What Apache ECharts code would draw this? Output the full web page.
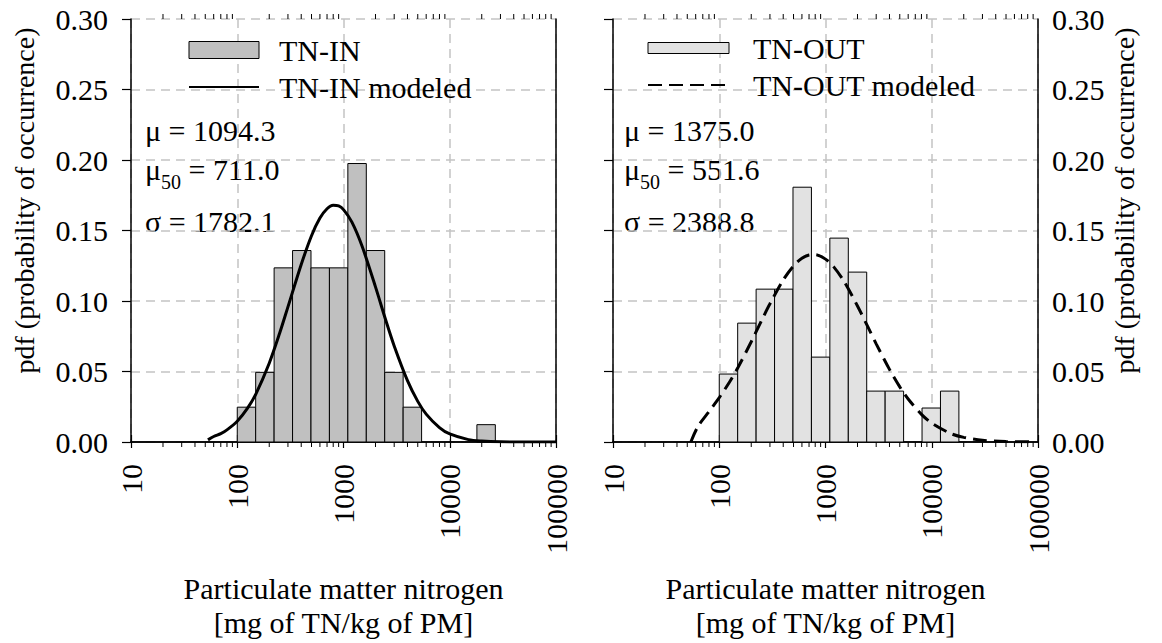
<!DOCTYPE html>
<html>
<head>
<meta charset="utf-8">
<script src="https://cdn.jsdelivr.net/npm/echarts@6/dist/echarts.min.js"></script>
<style>
html,body{margin:0;padding:0;background:#fff;}
#chart{width:1162px;height:643px;}
</style>
</head>
<body>
<div id="chart"></div>
<script>
// ---------------- data ----------------
const binEdges = [100, 149.1, 222.3, 331.5, 494.3, 737.1, 1099, 1639, 2443, 3643, 5433, 8101, 12078, 18009, 26853];
const tnInPdf  = [0.0247, 0.0494, 0.1235, 0.1358, 0.1235, 0.1235, 0.1975, 0.1358, 0.0494, 0.0247, 0, 0, 0, 0.0123];
const tnOutPdf = [0.0482, 0.0843, 0.1084, 0.1084, 0.1807, 0.0602, 0.1446, 0.1205, 0.0361, 0.0361, 0, 0.0241, 0.0361];

const tnInModelX = [53, 60, 70, 80, 100, 125, 150, 200, 250, 300, 400, 500, 600, 700, 800, 900, 1000, 1200, 1500, 2000, 2500, 3000, 4000, 5000, 6000, 8000, 10000, 15000, 20000, 30000, 50000, 100000];
const tnInModelY = [0.0015, 0.0039, 0.0060, 0.0086, 0.0147, 0.0240, 0.0342, 0.0559, 0.0769, 0.0958, 0.1259, 0.1463, 0.1588, 0.1654, 0.1679, 0.1674, 0.1648, 0.1559, 0.1386, 0.1100, 0.0863, 0.0681, 0.0435, 0.0288, 0.0198, 0.0102, 0.0057, 0.0017, 0.0007, 0.00015, 0.00002, 0];

const tnOutModelX = [54, 63, 79, 100, 125, 150, 200, 250, 300, 400, 500, 600, 700, 800, 1000, 1200, 1500, 2000, 2500, 3000, 4000, 5000, 6000, 8000, 10000, 15000, 20000, 30000, 50000, 90000];
const tnOutModelY = [0, 0.011, 0.021, 0.0315, 0.0425, 0.0528, 0.0711, 0.0861, 0.0980, 0.1149, 0.1249, 0.1303, 0.1326, 0.1329, 0.1297, 0.1240, 0.1137, 0.0965, 0.0818, 0.0696, 0.0515, 0.0391, 0.0305, 0.0196, 0.0134, 0.0061, 0.0033, 0.0012, 0.0003, 0.0001];

const minorTickValues = [20,30,40,50,60,70,80,90, 200,300,400,500,600,700,800,900, 2000,3000,4000,5000,6000,7000,8000,9000, 20000,30000,40000,50000,60000,70000,80000,90000];

const statsIn  = ['1094.3', '711.0', '1782.1'];
const statsOut = ['1375.0', '551.6', '2388.8'];

const xName = 'Particulate matter nitrogen\n[mg of TN/kg of PM]';
const yName = 'pdf (probability of occurrence)';

// ---------------- helpers ----------------
const FONT = "'Liberation Serif', 'Times New Roman', Times, serif";
const FS = 30;

function barsData(pdf) {
  return pdf.map((h, i) => [binEdges[i], binEdges[i + 1], h]);
}
function pairs(xs, ys) { return xs.map((x, i) => [x, ys[i]]); }

function histRender(fill) {
  return function (params, api) {
    const h = api.value(2);
    if (!h) return null;
    const p0 = api.coord([api.value(0), h]);
    const p1 = api.coord([api.value(1), 0]);
    return {
      type: 'rect',
      shape: { x: p0[0], y: p0[1], width: p1[0] - p0[0], height: p1[1] - p0[1] },
      style: { fill: fill, stroke: '#000', lineWidth: 1 }
    };
  };
}
function minorTickRender(params, api) {
  const v = api.value(0);
  const b = api.coord([v, 0]);
  const t = api.coord([v, 0.3]);
  return {
    type: 'group',
    children: [
      { type: 'line', shape: { x1: b[0], y1: b[1], x2: b[0], y2: b[1] + 5 }, style: { stroke: '#000', lineWidth: 1 } },
      { type: 'line', shape: { x1: t[0], y1: t[1], x2: t[0], y2: t[1] - 5 }, style: { stroke: '#000', lineWidth: 1 } }
    ]
  };
}

const axisLineStyle = { color: '#000', width: 1.5 };
const splitStyle = { color: '#c4c4c4', width: 1.5, type: [9, 6] };

function bottomX(gridIndex) {
  return {
    type: 'log', logBase: 10, gridIndex: gridIndex, position: 'bottom',
    min: 10, max: 100000,
    axisLine: { show: true, lineStyle: axisLineStyle },
    axisTick: { show: true, length: 6, lineStyle: { color: '#000', width: 1.2 } },
    axisLabel: { show: true, rotate: 90, margin: 22, fontSize: FS, fontFamily: FONT, color: '#000',
      formatter: v => String(Math.round(v)) },
    splitLine: { show: true, lineStyle: splitStyle },
    name: xName, nameLocation: 'middle', nameGap: 129,
    nameTextStyle: { fontSize: FS, fontFamily: FONT, color: '#000', lineHeight: 34 }
  };
}
function topX(gridIndex) {
  return {
    type: 'log', logBase: 10, gridIndex: gridIndex, position: 'top',
    min: 10, max: 100000,
    axisLine: { show: true, lineStyle: axisLineStyle },
    axisTick: { show: true, length: 7, lineStyle: { color: '#000', width: 1.2 } },
    axisLabel: { show: false },
    splitLine: { show: false }
  };
}
function yBase(gridIndex, position) {
  return {
    type: 'value', gridIndex: gridIndex, position: position,
    min: 0, max: 0.3, interval: 0.05,
    axisLine: { show: true, lineStyle: axisLineStyle },
    axisTick: { show: false },
    axisLabel: { show: false },
    splitLine: { show: false }
  };
}

const yAxes = [];
// left panel: left axis with labels, ticks, grid
let a = yBase(0, 'left');
a.axisTick = { show: true, length: 9, lineStyle: { color: '#000', width: 1.2 } };
a.axisLabel = { show: true, margin: 23, fontSize: FS, fontFamily: FONT, color: '#000', formatter: v => v.toFixed(2) };
a.splitLine = { show: true, lineStyle: splitStyle };
a.name = yName; a.nameLocation = 'middle'; a.nameRotate = 90; a.nameGap = 92;
a.nameTextStyle = { fontSize: 28, fontFamily: FONT, color: '#000', lineHeight: 30, padding: [0, 0, 0, 60] };
yAxes.push(a);
// left panel: right spine
yAxes.push(yBase(0, 'right'));
// right panel: left spine with ticks + grid
a = yBase(1, 'left');
a.axisTick = { show: true, length: 9, lineStyle: { color: '#000', width: 1.2 } };
a.splitLine = { show: true, lineStyle: splitStyle };
yAxes.push(a);
// right panel: right axis with labels
a = yBase(1, 'right');
a.axisLabel = { show: true, margin: 14, fontSize: FS, fontFamily: FONT, color: '#000', formatter: v => v.toFixed(2) };
a.name = yName; a.nameLocation = 'middle'; a.nameRotate = 90; a.nameGap = 71;
a.nameTextStyle = { fontSize: 28, fontFamily: FONT, color: '#000', lineHeight: 30, padding: [0, 0, 0, 60] };
yAxes.push(a);

function statTexts(x, vals) {
  const m = { fontSize: FS, fontFamily: FONT, color: '#000', lineHeight: 34, verticalAlign: 'top' };
  const s = { fontSize: 20, fontFamily: FONT, color: '#000', lineHeight: 22, verticalAlign: 'top', padding: [18, 0, 0, 0] };
  return [
    { type: 'text', x: x, y: 115, style: { text: '{m|μ = ' + vals[0] + '}', rich: { m: m }, verticalAlign: 'top' } },
    { type: 'text', x: x, y: 154, style: { text: '{m|μ}{s|50}{m| = ' + vals[1] + '}', rich: { m: m, s: s }, verticalAlign: 'top' } },
    { type: 'text', x: x, y: 206, style: { text: '{m|σ = ' + vals[2] + '}', rich: { m: m }, verticalAlign: 'top' } }
  ];
}

function legendCfg(left, top, iw, ih, gapText, names, fill) {
  return {
    left: left, top: top, orient: 'vertical', padding: 0,
    itemWidth: iw, itemHeight: ih, itemGap: 7, selectedMode: false,
    textStyle: { fontSize: FS, fontFamily: FONT, color: '#000', lineHeight: 30, padding: [0, 0, 0, gapText] },
    data: [
      { name: names[0], icon: 'rect', itemStyle: { color: fill, borderColor: '#000', borderWidth: 1 } },
      { name: names[1], itemStyle: { color: 'rgba(0,0,0,0)', borderWidth: 0, opacity: 0 } }
    ]
  };
}

const option = {
  animation: false,
  backgroundColor: '#fff',
  textStyle: { fontFamily: FONT },
  grid: [
    { left: 131, top: 19, width: 425, height: 423, outerBoundsMode: 'none' },
    { left: 613, top: 19, width: 425, height: 423, outerBoundsMode: 'none' }
  ],
  xAxis: [bottomX(0), topX(0), bottomX(1), topX(1)],
  yAxis: yAxes,
  legend: [
    legendCfg(188, 35, 70, 17, 15, ['TN-IN', 'TN-IN modeled'], '#c0c0c0'),
    legendCfg(647, 33, 81, 11, 19, ['TN-OUT', 'TN-OUT modeled'], '#e2e2e2')
  ],
  graphic: statTexts(145, statsIn).concat(statTexts(624, statsOut)),
  series: [
    { type: 'custom', name: 'TN-IN', xAxisIndex: 0, yAxisIndex: 0, renderItem: histRender('#c0c0c0'),
      encode: { x: [0, 1], y: 2 }, data: barsData(tnInPdf), itemStyle: { color: '#c0c0c0' }, z: 3 },
    { type: 'line', name: 'TN-IN modeled', xAxisIndex: 0, yAxisIndex: 0, data: pairs(tnInModelX, tnInModelY),
      symbol: 'none', smooth: 0.3, lineStyle: { color: '#000', width: 3, type: 'solid' }, itemStyle: { color: '#000' }, z: 5 },
    { type: 'custom', name: 'TN-OUT', xAxisIndex: 2, yAxisIndex: 2, renderItem: histRender('#e2e2e2'),
      encode: { x: [0, 1], y: 2 }, data: barsData(tnOutPdf), itemStyle: { color: '#e2e2e2' }, z: 3 },
    { type: 'line', name: 'TN-OUT modeled', xAxisIndex: 2, yAxisIndex: 2, data: pairs(tnOutModelX, tnOutModelY),
      symbol: 'none', smooth: 0.3, lineStyle: { color: '#000', width: 3, type: [14, 7] }, itemStyle: { color: '#000' }, z: 5 },
    { type: 'custom', xAxisIndex: 0, yAxisIndex: 0, renderItem: minorTickRender, clip: false, silent: true,
      encode: { x: 0, y: 1 }, data: minorTickValues.map(v => [v, 0]), z: 6 },
    { type: 'custom', xAxisIndex: 2, yAxisIndex: 2, renderItem: minorTickRender, clip: false, silent: true,
      encode: { x: 0, y: 1 }, data: minorTickValues.map(v => [v, 0]), z: 6 }
  ]
};

const chart = echarts.init(document.getElementById('chart'), null, { renderer: 'svg' });
chart.setOption(option);
</script>
</body>
</html>
